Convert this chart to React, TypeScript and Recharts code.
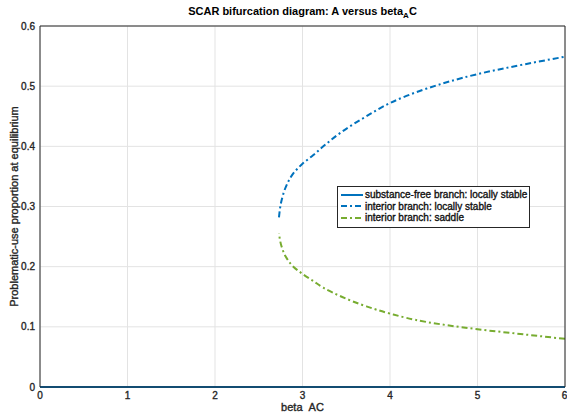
import React from "react";
import {
  LineChart,
  Line,
  XAxis,
  YAxis,
  CartesianGrid,
  Legend,
} from "recharts";

// beta_AC sample points along the interior branches
const betaValues = [2.731, 2.762, 2.811, 2.895, 3.0, 3.124, 3.238, 3.448, 3.73, 4.0, 4.42, 5.0, 5.56, 6.0];
// interior branch, locally stable (upper)
const stableValues = [0.282, 0.311, 0.333, 0.355, 0.371, 0.3855, 0.4, 0.424, 0.45, 0.472, 0.496, 0.52, 0.537, 0.549];
// interior branch, saddle (lower)
const saddleValues = [0.2555, 0.233, 0.216, 0.2, 0.188, 0.176, 0.165, 0.15, 0.134, 0.122, 0.108, 0.096, 0.087, 0.08];
// substance-free branch
const freeBeta = [0, 6];
const freeValues = [0, 0];

const seriesNames = [
  "substance-free branch: locally stable",
  "interior branch: locally stable",
  "interior branch: saddle",
];

const xTicks = [0, 1, 2, 3, 4, 5, 6];
const yTicks = [0, 0.1, 0.2, 0.3, 0.4, 0.5, 0.6];

const stableData = betaValues.map((b, i) => ({ beta: b, value: stableValues[i] }));
// reversed so the value rises along the path (curve is smoothed in y)
const saddleData = betaValues.map((b, i) => ({ beta: b, value: saddleValues[i] })).reverse();
const freeData = freeBeta.map((b, i) => ({ beta: b, value: freeValues[i] }));

const BLUE = "#0072BD";
const GREEN = "#77AC30";
const AXIS = "#262626";
const FONT = "Helvetica, Arial, 'Liberation Sans', sans-serif";

const textStyle = { fill: AXIS, stroke: AXIS, strokeWidth: 0.35 };

const noLabel = () => <g />;

const LegendBox = (props: any) => {
  const items = [...(props.payload || [])].sort(
    (a: any, b: any) => seriesNames.indexOf(a.value) - seriesNames.indexOf(b.value)
  );
  return (
    <div
      style={{
        border: `1px solid ${AXIS}`,
        background: "#fff",
        padding: "2px 2px 3px 2px",
        fontFamily: FONT,
        fontSize: 10,
        color: "#111",
        WebkitTextStroke: "0.35px #111",
        lineHeight: "11.5px",
      }}
    >
      {items.map((it: any, i: number) => (
        <div key={i} style={{ display: "flex", alignItems: "center", whiteSpace: "nowrap" }}>
          <svg width={24} height={6} style={{ marginRight: 1 }}>
            <line
              x1={1}
              y1={3}
              x2={23}
              y2={3}
              stroke={it.color}
              strokeWidth={2}
              strokeDasharray={it.payload?.strokeDasharray}
            />
          </svg>
          <span>{it.value}</span>
        </div>
      ))}
    </div>
  );
};

export default function App() {
  return (
    <div style={{ position: "absolute", left: 0, top: 0, width: 567, height: 415, background: "#fff" }}>
      <div
        style={{
          position: "absolute",
          left: 40,
          width: 525,
          top: 5,
          textAlign: "center",
          fontFamily: FONT,
          fontWeight: "bold",
          fontSize: 11,
          color: "#000",
        }}
      >
        SCAR bifurcation diagram: A versus beta<sub style={{ fontSize: 8 }}>A</sub>C
      </div>
      <LineChart
        width={567}
        height={415}
        margin={{ top: 26, right: 2, bottom: 0, left: 0 }}
        style={{ fontFamily: FONT }}
      >
        <CartesianGrid stroke="#e3e3e3" strokeWidth={1} />
        <XAxis
          xAxisId={0}
          dataKey="beta"
          type="number"
          domain={[0, 6]}
          ticks={xTicks}
          height={28}
          stroke={AXIS}
          tickLine={false}
          tickSize={3}
          tickMargin={2}
          tick={{ ...textStyle, fontSize: 10 }}
          label={{
            value: "beta\u00a0\u00a0AC",
            position: "insideBottom",
            offset: 4,
            style: textStyle,
            fontSize: 11,
          }}
        />
        <XAxis xAxisId="bin" dataKey="beta" type="number" domain={[0, 6]} ticks={xTicks} mirror axisLine={false} tickSize={5} stroke={AXIS} tick={noLabel} />
        <XAxis xAxisId="top" orientation="top" dataKey="beta" type="number" domain={[0, 6]} ticks={xTicks} mirror tickSize={5} stroke={AXIS} tick={noLabel} />
        <YAxis
          yAxisId={0}
          type="number"
          domain={[0, 0.6]}
          ticks={yTicks}
          width={40}
          stroke={AXIS}
          tickLine={false}
          tickSize={3}
          tickMargin={2}
          tick={{ ...textStyle, fontSize: 10 }}
          tickFormatter={(v: number) => String(v)}
          label={{
            value: "Problematic-use proportion at equilibrium",
            angle: -90,
            position: "insideLeft",
            offset: 14,
            style: { ...textStyle, textAnchor: "middle" },
            fontSize: 11,
          }}
        />
        <YAxis yAxisId="lin" type="number" domain={[0, 0.6]} ticks={yTicks} mirror axisLine={false} tickSize={5} stroke={AXIS} tick={noLabel} />
        <YAxis yAxisId="right" orientation="right" type="number" domain={[0, 0.6]} ticks={yTicks} mirror tickSize={5} stroke={AXIS} tick={noLabel} />
        <Legend
          layout="horizontal"
          verticalAlign="middle"
          align="center"
          content={LegendBox}
          wrapperStyle={{ position: "absolute", left: 337, top: 186, width: "auto" }}
        />
        <Line
          data={freeData}
          dataKey="value"
          name={seriesNames[0]}
          stroke={BLUE}
          strokeWidth={2}
          dot={false}
          isAnimationActive={false}
        />
        <Line
          data={stableData}
          dataKey="value"
          name={seriesNames[1]}
          type="monotoneY"
          stroke={BLUE}
          strokeWidth={2}
          strokeDasharray="6 3 2 3"
          dot={false}
          isAnimationActive={false}
        />
        <Line
          data={saddleData}
          dataKey="value"
          name={seriesNames[2]}
          type="monotoneY"
          stroke={GREEN}
          strokeWidth={2}
          strokeDasharray="6 3 2 3"
          dot={false}
          isAnimationActive={false}
        />
      </LineChart>
    </div>
  );
}
